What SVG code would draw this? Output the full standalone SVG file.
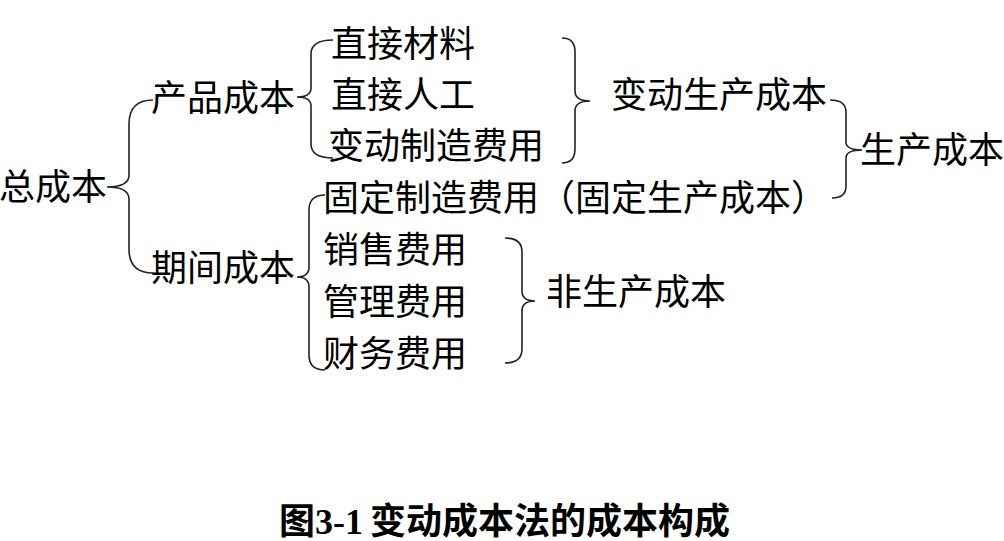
<svg xmlns="http://www.w3.org/2000/svg" width="1004" height="541" viewBox="0 0 1004 541">
<style>
.t{font-family:"Liberation Serif","Noto Sans CJK SC",serif;font-size:36px;fill:#000}
.cap{font-family:"Liberation Serif","Noto Sans CJK SC",serif;font-size:36px;font-weight:bold;fill:#000}
.b{fill:none;stroke:#222;stroke-width:1.6}
</style>
<rect width="1004" height="541" fill="#fff"/>
<g id="connectors">
<path class="b" d="M153,100 Q129,100 129,124 L129,175 Q129,187 107,187 Q129,187 129,199 L129,249 Q129,273 153,273"/>
<path class="b" d="M333,40 Q311,40 311,54 L311,88 Q311,97 297,97 Q311,97 311,106 L311,144 Q311,158 333,158"/>
<path class="b" d="M325,195 Q309,195 309,210 L309,267 Q309,277 297,277 Q309,277 309,287 L309,355 Q309,370 325,370"/>
<path class="b" d="M562,38 Q575,38 575,52 L575,91 Q575,101 590,101 Q575,101 575,111 L575,149 Q575,163 562,163"/>
<path class="b" d="M830,100 Q846,100 846,112 L846,142 Q846,150 862,150 Q846,150 846,158 L846,186 Q846,198 832,198"/>
<path class="b" d="M505,238 Q522,238 522,252 L522,291 Q522,301 535,301 Q522,301 522,311 L522,349 Q522,363 505,363"/>
</g>
<g id="total"><text class="t" x="-1" y="200">总成本</text></g>
<g id="product"><text class="t" x="151" y="111">产品成本</text></g>
<g id="period"><text class="t" x="151" y="281">期间成本</text></g>
<g id="dm"><text class="t" x="331" y="57">直接材料</text></g>
<g id="dl"><text class="t" x="331" y="108">直接人工</text></g>
<g id="voh"><text class="t" x="328" y="159">变动制造费用</text></g>
<g id="foh"><text class="t" x="323" y="211">固定制造费用（固定生产成本）</text></g>
<g id="sell"><text class="t" x="323" y="263">销售费用</text></g>
<g id="admin"><text class="t" x="323" y="315">管理费用</text></g>
<g id="fin"><text class="t" x="323" y="367">财务费用</text></g>
<g id="varprod"><text class="t" x="611" y="108">变动生产成本</text></g>
<g id="nonprod"><text class="t" x="546" y="305">非生产成本</text></g>
<g id="prod"><text class="t" x="860" y="163">生产成本</text></g>
<g id="caption"><text class="cap" x="279" y="534">图3-1<tspan x="370">变动成本法的成本构成</tspan></text></g>
</svg>
